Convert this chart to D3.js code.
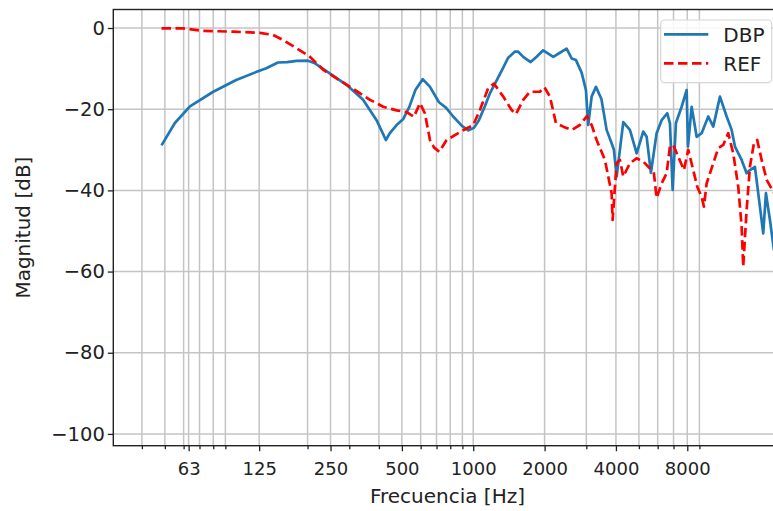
<!DOCTYPE html>
<html>
<head>
<meta charset="utf-8">
<script src="https://cdn.jsdelivr.net/npm/d3@7"></script>
<style>
  body { margin: 0; background: #fff; }
  text { font-family: 'DejaVu Sans', sans-serif; fill: #222; }
</style>
</head>
<body>
<div id="chart"></div>
<script>
// values
var dbpFreq = [48.4, 55.1, 63.8, 80, 100, 122, 134, 150, 164, 180, 201, 215, 248, 292, 343, 391, 428, 445, 475, 507,
  537, 570, 612, 657, 717, 767, 823, 896, 954, 1007, 1057, 1121, 1176, 1259, 1335, 1401, 1500, 1544, 1625, 1747,
  1851, 1973, 2176, 2322, 2477, 2602, 2713, 2867, 2989, 3056, 3159, 3294, 3474, 3654, 3836, 3923, 4027, 4296, 4582, 4892,
  5214, 5391, 5619, 5939, 6235, 6585, 6760, 6940, 7165, 7573, 7951, 8052, 8346, 8763, 9198, 9809, 10297, 10988, 11728, 12312,
  12713, 13565, 14239, 14703, 15434, 16202, 16729, 17177, 17859, 18567, 19870];
var dbpMag = [-28.9, -23.4, -19.3, -15.7, -12.8, -10.8, -9.9, -8.5, -8.4, -8.1, -8.05, -8.7, -11.2, -14.0, -17.7, -22.7, -27.6, -25.9, -23.9, -22.4,
  -19.5, -15.3, -12.6, -14.5, -18.3, -19.6, -21.8, -24.1, -25.2, -24.6, -22.7, -19.2, -16.1, -12.8, -9.9, -7.4, -5.8, -5.8, -7.1, -8.4,
  -7.1, -5.5, -7.1, -6.1, -5.1, -7.5, -7.9, -11.0, -15.3, -23.9, -16.9, -14.5, -17.5, -25.1, -28.4, -30.0, -36.6, -23.2, -25.1, -30.9,
  -25.5, -26.8, -35.7, -25.9, -22.7, -21.0, -23.5, -39.9, -23.4, -19.4, -15.3, -29.2, -19.4, -26.8, -25.9, -21.8, -24.3, -16.9, -21.8, -25.1,
  -29.2, -32.5, -35.8, -35.0, -34.2, -44.0, -50.6, -40.7, -47.3, -54.7, -57.6];

var refFreq = [48.4, 59.8, 72.6, 97.1, 126, 143, 158, 180, 203, 233, 302, 367, 417, 475, 524, 562, 596, 625, 657, 683,
  719, 772, 907, 1000, 1067, 1157, 1223, 1339, 1452, 1514, 1625, 1735, 1912, 1997, 2107, 2233, 2398, 2609, 2819, 3017,
  3159, 3316, 3594, 3836, 3873, 4027, 4158, 4296, 4582, 4892, 5214, 5567, 5786, 5939, 6235, 6546, 6760, 6981, 7326, 7745,
  8075, 8476, 8812, 9198, 9404, 9654, 10297, 10807, 11345, 11911, 12503, 13126, 13565, 13776, 14239, 14703, 15286, 15784, 16478, 17298,
  18567, 19679];
var refMag = [-0.1, -0.1, -0.7, -0.9, -1.2, -1.7, -3.0, -5.0, -6.9, -10.3, -14.5, -17.7, -19.4, -20.3, -20.7, -21.9, -18.5, -21.0, -27.6, -29.4,
  -30.5, -27.6, -25.2, -23.9, -20.2, -14.8, -13.7, -16.9, -20.2, -21.2, -17.7, -15.7, -15.7, -14.6, -16.9, -23.4, -24.3, -25.1, -23.9, -21.7,
  -23.9, -27.6, -32.5, -40.7, -47.3, -33.3, -32.5, -36.6, -33.3, -32.1, -32.9, -34.6, -35.8, -41.9, -38.3, -35.8, -29.2, -28.8, -31.7, -35.0,
  -30.0, -35.0, -39.1, -41.6, -44.0, -38.3, -33.3, -29.6, -28.8, -25.9, -30.9, -39.1, -48.9, -58.8, -44.8, -34.2, -28.4, -27.6, -32.5, -37.4,
  -40.6, -42.4];

var xMajor = [63, 125, 250, 500, 1000, 2000, 4000, 8000];
var xMinor = [40, 50, 60, 70, 80, 90, 200, 300, 400, 600, 700, 800, 900, 3000, 5000, 6000, 7000, 9000];
var yTicks = [0, -20, -40, -60, -80, -100];

var series = [
  { name: 'DBP', freq: dbpFreq, mag: dbpMag, color: '#1f77b4', dash: null },
  { name: 'REF', freq: refFreq, mag: refMag, color: '#ff0000', dash: '9.5,4.5' }
];

var m = { left: 113.3, top: 9.5 };
var w = 668.3, h = 436.2;

var svg = d3.select('#chart').append('svg')
  .attr('width', 773)
  .attr('height', 511);

var g = svg.append('g')
  .attr('transform', 'translate(' + m.left + ',' + m.top + ')');

var xScale = d3.scaleLog().domain([30.3, 20000]).range([0, w]);
var yScale = d3.scaleLinear().domain([-102.9, 4.56]).range([h, 0]);

g.append('clipPath').attr('id', 'clip')
  .append('rect').attr('width', w).attr('height', h);

// grid
g.append('g').attr('class', 'grid')
  .selectAll('line.v')
  .data(xMajor.concat(xMinor))
  .enter().append('line')
  .attr('x1', function(d) { return xScale(d); })
  .attr('x2', function(d) { return xScale(d); })
  .attr('y1', 0).attr('y2', h)
  .attr('stroke', '#c4c4c4').attr('stroke-width', 1.5);

g.append('g').attr('class', 'grid')
  .selectAll('line.h')
  .data(yTicks)
  .enter().append('line')
  .attr('x1', 0).attr('x2', w)
  .attr('y1', function(d) { return yScale(d); })
  .attr('y2', function(d) { return yScale(d); })
  .attr('stroke', '#c4c4c4').attr('stroke-width', 1.5);

// curves
var line = d3.line()
  .x(function(d) { return xScale(d[0]); })
  .y(function(d) { return yScale(d[1]); });

series.forEach(function(s) {
  g.append('path')
    .datum(d3.zip(s.freq, s.mag))
    .attr('clip-path', 'url(#clip)')
    .attr('fill', 'none')
    .attr('stroke', s.color)
    .attr('stroke-width', 2.7)
    .attr('stroke-linejoin', 'round')
    .attr('stroke-dasharray', s.dash)
    .attr('d', line);
});

// axes
var xAxis = g.append('g')
  .attr('class', 'xaxis')
  .attr('transform', 'translate(0,' + h + ')')
  .call(d3.axisBottom(xScale).tickValues(xMajor).tickFormat(d3.format('d')).tickSize(5.5));

xAxis.selectAll('text')
  .attr('dy', null)
  .attr('y', 29)
  .attr('font-size', 18)
  .attr('fill', '#222');

g.append('g')
  .attr('class', 'xminor')
  .attr('transform', 'translate(0,' + h + ')')
  .call(d3.axisBottom(xScale).tickValues(xMinor).tickFormat('').tickSize(3.5));

var yAxis = g.append('g')
  .attr('class', 'yaxis')
  .call(d3.axisLeft(yScale).tickValues(yTicks).tickSize(5.5).tickPadding(3));

yAxis.selectAll('text')
  .attr('font-size', 19.5)
  .attr('fill', '#222');

g.selectAll('.domain').remove();
g.selectAll('.tick line').attr('stroke', '#222').attr('stroke-width', 1.3);

// frame
g.append('rect')
  .attr('width', w).attr('height', h)
  .attr('fill', 'none')
  .attr('stroke', '#222')
  .attr('stroke-width', 1.4);

svg.append('text')
  .attr('class', 'xlabel')
  .attr('font-size', 20)
  .attr('x', m.left + w / 2)
  .attr('y', 503)
  .attr('text-anchor', 'middle')
  .text('Frecuencia [Hz]');

svg.append('text')
  .attr('class', 'ylabel')
  .attr('font-size', 20)
  .attr('transform', 'translate(30,' + (m.top + h / 2) + ') rotate(270)')
  .attr('text-anchor', 'middle')
  .text('Magnitud [dB]');

// legend
var lg = svg.append('g').attr('class', 'legend');
lg.append('rect')
  .attr('x', 660.7).attr('y', 20)
  .attr('width', 111).attr('height', 62.7)
  .attr('rx', 4)
  .attr('fill', 'white').attr('fill-opacity', 0.85)
  .attr('stroke', '#d6d6d6').attr('stroke-width', 1.2);

series.forEach(function(s, i) {
  var yy = 34.3 + i * 29;
  lg.append('line')
    .attr('x1', 664).attr('x2', 708.3)
    .attr('y1', yy).attr('y2', yy)
    .attr('stroke', s.color)
    .attr('stroke-width', 2.7)
    .attr('stroke-dasharray', s.dash);
  lg.append('text')
    .attr('x', 723.3)
    .attr('y', yy + 7.5)
    .attr('font-size', 20)
    .text(s.name);
});
</script>
</body>
</html>
